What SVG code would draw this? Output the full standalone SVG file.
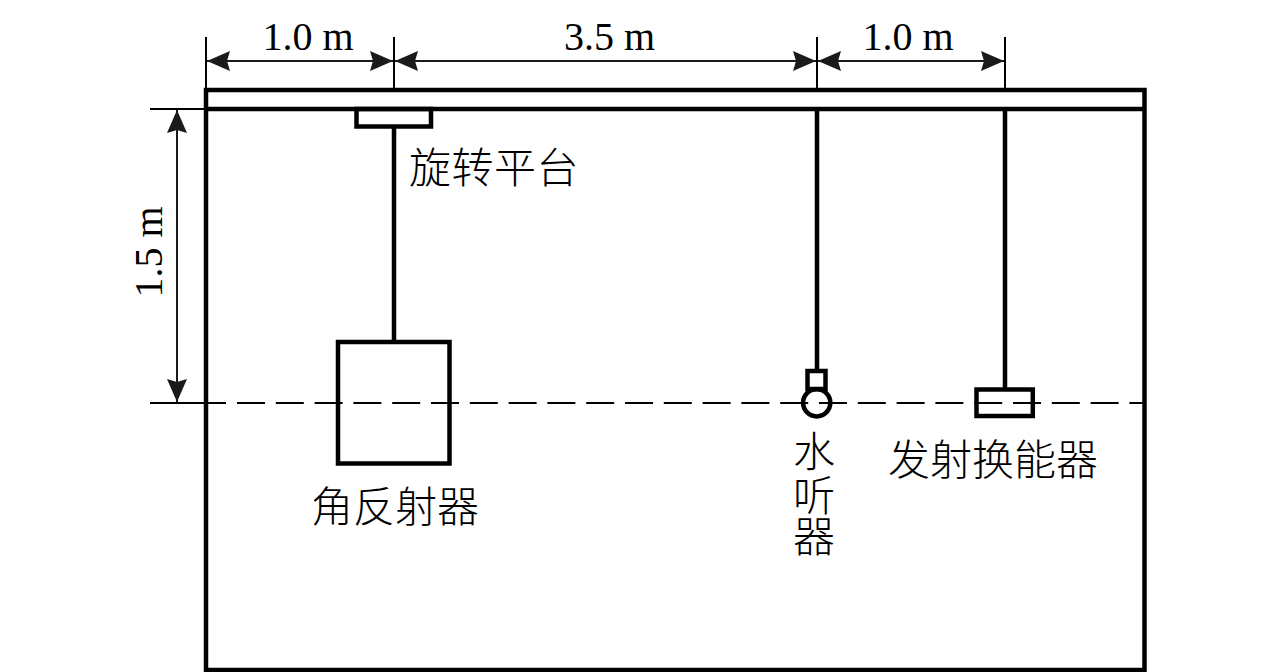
<svg xmlns="http://www.w3.org/2000/svg" width="1276" height="672" viewBox="0 0 1276 672">
<style>
.h{fill:none;stroke:#000;stroke-width:4.500}
.t{fill:none;stroke:#000;stroke-width:2}
.d{fill:none;stroke:#1a1a1a;stroke-width:2}
.lat{font-family:"Liberation Serif","Times New Roman",serif;font-size:40px;fill:#000;text-anchor:middle}
.cjk{font-family:"Noto Sans CJK SC","Noto Sans CJK JP",sans-serif;font-size:42px;font-weight:300;fill:#000}
</style>
<defs>
<marker id="a" markerUnits="userSpaceOnUse" markerWidth="24" markerHeight="22" refX="23" refY="10" orient="auto-start-reverse" viewBox="0 0 24 20"><path d="M0 0L23 10L0 20L3 10Z" fill="#1a1a1a"/></marker>
</defs>
<rect width="1276" height="672" fill="#fff"/>
<g id="tank"><rect class="h" x="206" y="90" width="938.500" height="580"/><line class="h" x1="206" y1="109" x2="1144" y2="109"/></g>
<g id="connectors">
<line class="t" x1="150" y1="403" x2="226" y2="403"/>
<line class="t" x1="237" y1="403" x2="1144" y2="403" stroke-dasharray="28 10.8"/>
<line class="t" x1="150" y1="109" x2="206" y2="109"/>
<line class="t" x1="206" y1="37" x2="206" y2="90"/>
<line class="t" x1="394" y1="37" x2="394" y2="90"/>
<line class="t" x1="817" y1="37" x2="817" y2="90"/>
<line class="t" x1="1005" y1="37" x2="1005" y2="90"/>
<line class="d" x1="207" y1="61" x2="393" y2="61" marker-start="url(#a)" marker-end="url(#a)"/>
<line class="d" x1="395" y1="61" x2="816" y2="61" marker-start="url(#a)" marker-end="url(#a)"/>
<line class="d" x1="818" y1="61" x2="1004" y2="61" marker-start="url(#a)" marker-end="url(#a)"/>
<line class="d" x1="177" y1="110" x2="177" y2="402" marker-start="url(#a)" marker-end="url(#a)"/>
<line class="h" x1="394" y1="126" x2="394" y2="342"/>
<line class="h" x1="817" y1="109" x2="817" y2="371"/>
<line class="h" x1="1005" y1="109" x2="1005" y2="389"/>
</g>
<g id="platform"><rect class="h" x="356.500" y="109" width="74.500" height="17.500"/><text class="cjk" x="409" y="183" letter-spacing="0.500">旋转平台</text></g>
<g id="reflector"><rect class="h" x="338" y="342" width="111.500" height="121.500"/><text class="cjk" x="311" y="522">角反射器</text></g>
<g id="hydrophone"><rect class="h" x="807.500" y="371" width="18" height="18"/><circle cx="816.700" cy="402.800" r="13.600" fill="none" stroke="#000" stroke-width="4.500"/><text class="cjk" x="793 793 793" y="467 511 552">水听器</text></g>
<g id="transducer"><rect class="h" x="976.500" y="389.500" width="56.300" height="26.500"/><text class="cjk" x="888" y="475">发射换能器</text></g>
<g id="dimensions">
<text class="lat" x="308" y="50">1.0 m</text>
<text class="lat" x="609.500" y="50">3.5 m</text>
<text class="lat" x="908" y="50">1.0 m</text>
<text class="lat" transform="translate(162 252) rotate(-90)">1.5 m</text>
</g>
</svg>
